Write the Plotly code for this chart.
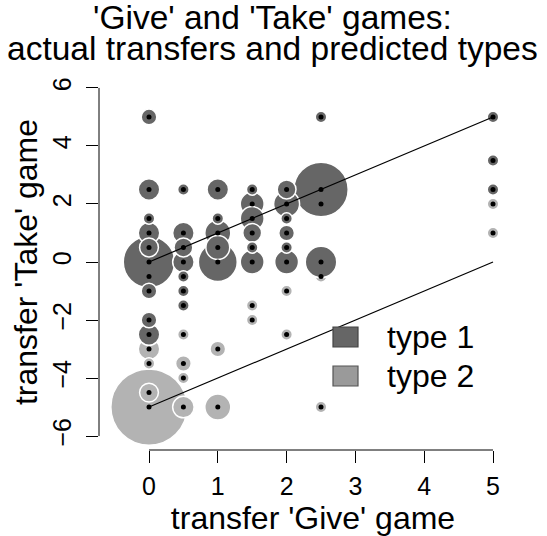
import numpy as np
import plotly.graph_objects as go

# ---------------- data ----------------
# type 1 (dark): transfer Give, transfer Take, number of subjects
t1_x = [0, 0, 0, 0, 0, 0, 0, 0, 0,
        0.5, 0.5, 0.5, 0.5, 0.5, 0.5, 0.5,
        1, 1, 1, 1, 1,
        1.5, 1.5, 1.5, 1.5, 1.5, 1.5,
        2, 2, 2, 2, 2, 2,
        2.5, 2.5, 2.5,
        5, 5, 5]
t1_y = [5, 2.5, 1.5, 1, 0.5, 0, -1, -2, -2.5,
        2.5, 1, 0.5, 0, -0.5, -1, -1.5,
        2.5, 1.5, 1, 0.5, 0,
        2.5, 2, 1.5, 1, 0.5, 0,
        2.5, 2, 1.5, 1, 0.5, 0,
        5, 2.5, 0,
        5, 3.5, 2.5]
t1_n = [2, 4, 1, 4, 3, 25, 2, 2, 4,
        1, 4, 3, 4, 1, 1, 1,
        4, 1, 6, 5, 14,
        1, 5, 5, 3, 1, 5,
        3, 6, 1, 2, 1, 5,
        1, 28, 9,
        1, 1, 1]

# type 2 (light)
t2_x = [0, 0, 0, 0, 0,
        0.5, 0.5, 0.5, 0.5,
        1, 1,
        1.5, 1.5,
        2, 2,
        2.5, 2.5, 2.5,
        5, 5]
t2_y = [-0.5, -3, -3.5, -4.5, -5,
        -2.5, -3.5, -4, -5,
        -3, -5,
        -1.5, -2,
        -1, -2.5,
        2, -0.5, -5,
        2, 1]
t2_n = [1, 4, 1, 3, 56,
        1, 2, 1, 4,
        2, 6,
        1, 1,
        1, 1,
        1, 1, 1,
        1, 1]

# predicted type lines
line_x = [0, 5]
line1_y = [0, 5]
line2_y = [-5, 0]

x_ticks = [0, 1, 2, 3, 4, 5]
y_ticks = [-6, -4, -2, 0, 2, 4, 6]

type_names = ["type 1", "type 2"]
title_lines = ["'Give' and 'Take' games:", "actual transfers and predicted types"]
x_title = "transfer 'Give' game"
y_title = "transfer 'Take' game"

# ---------------- style ----------------
DARK = "#666666"
LIGHT = "#b3b3b3"
LEG_FILL = ["#666666", "#9a9a9a"]
LEG_EDGE = ["#444444", "#555555"]
FONT = "Liberation Sans, Arial, Helvetica, sans-serif"

W, H = 547, 536
ML, MR, MT, MB = 99, 20, 74, 86
PW, PH = W - ML - MR, H - MT - MB
PX_PER_X = 68.8
xr0 = -50 / PX_PER_X
xr1 = xr0 + PW / PX_PER_X
yr = 6.48


def px(p):
    return (p - ML) / PW


def py(p):
    return (H - MB - p) / PH


def sorted_desc(xs, ys, ns):
    order = np.argsort(-np.array(ns), kind="stable")
    return ([xs[i] for i in order], [ys[i] for i in order], [ns[i] for i in order])


def diam(ns):
    return [1.5 + 10 * np.sqrt(n) for n in ns]


fig = go.Figure()

for xs, ys, ns, col in [(t2_x, t2_y, t2_n, LIGHT), (t1_x, t1_y, t1_n, DARK)]:
    sx, sy, sn = sorted_desc(xs, ys, ns)
    fig.add_trace(go.Scatter(
        x=sx, y=sy, mode="markers", showlegend=False, hoverinfo="skip",
        marker=dict(size=diam(sn), color=col, opacity=1,
                    line=dict(color="white", width=1.5)),
    ))

for ly in (line1_y, line2_y):
    fig.add_trace(go.Scatter(x=line_x, y=ly, mode="lines", showlegend=False,
                             line=dict(color="black", width=1.2), hoverinfo="skip"))

fig.add_trace(go.Scatter(
    x=t2_x + t1_x, y=t2_y + t1_y, mode="markers", showlegend=False, hoverinfo="skip",
    marker=dict(size=5, color="black", line=dict(width=0)),
))

# axis lines spanning first to last tick (R style)
fig.add_shape(type="line", xref="x", yref="paper", x0=x_ticks[0], x1=x_ticks[-1],
              y0=0, y1=0, line=dict(color="black", width=1))
fig.add_shape(type="line", xref="paper", yref="y", x0=0, x1=0,
              y0=y_ticks[0], y1=y_ticks[-1], line=dict(color="black", width=1))

# legend (R style filled boxes)
for i, name in enumerate(type_names):
    top = 327 + 39 * i
    fig.add_shape(type="rect", xref="paper", yref="paper",
                  x0=px(333), x1=px(358), y0=py(top + 20), y1=py(top),
                  fillcolor=LEG_FILL[i], line=dict(color=LEG_EDGE[i], width=1.2),
                  layer="above")
    fig.add_annotation(text=name, xref="paper", yref="paper", x=px(385), y=py(top + 10),
                       xanchor="left", yanchor="middle", showarrow=False,
                       font=dict(size=32, color="black", family=FONT))

# title (two lines, tight R-like spacing)
cx = px(272)
fig.add_annotation(text=title_lines[0], xref="paper", yref="paper", x=cx, y=py(18),
                   xanchor="center", yanchor="middle", showarrow=False,
                   font=dict(size=33.5, color="black", family=FONT))
fig.add_annotation(text=title_lines[1], xref="paper", yref="paper", x=cx, y=py(48),
                   xanchor="center", yanchor="middle", showarrow=False,
                   font=dict(size=33.5, color="black", family=FONT))

fig.update_layout(
    width=W, height=H,
    margin=dict(l=ML, r=MR, t=MT, b=MB, pad=0, autoexpand=False),
    paper_bgcolor="white", plot_bgcolor="white",
    font=dict(family=FONT, color="black"),
    showlegend=False,
    xaxis=dict(range=[xr0, xr1], tickmode="array", tickvals=x_ticks,
               ticks="outside", ticklen=12, tickwidth=1, tickcolor="black",
               showgrid=False, zeroline=False, showline=False, automargin=False,
               tickfont=dict(size=25), ticklabelstandoff=2,
               title=dict(text=x_title, font=dict(size=32), standoff=4)),
    yaxis=dict(range=[-yr, yr], tickmode="array", tickvals=y_ticks,
               ticks="outside", ticklen=12, tickwidth=1, tickcolor="black",
               showgrid=False, zeroline=False, showline=False, automargin=False,
               tickangle=-90, tickfont=dict(size=25), ticklabelstandoff=5,
               title=dict(text=y_title, font=dict(size=32), standoff=0)),
)

fig.write_html("out.html",
               config={"displayModeBar": False},
               post_script="document.body.style.margin='0px';"
                           "document.body.style.overflow='hidden';")
